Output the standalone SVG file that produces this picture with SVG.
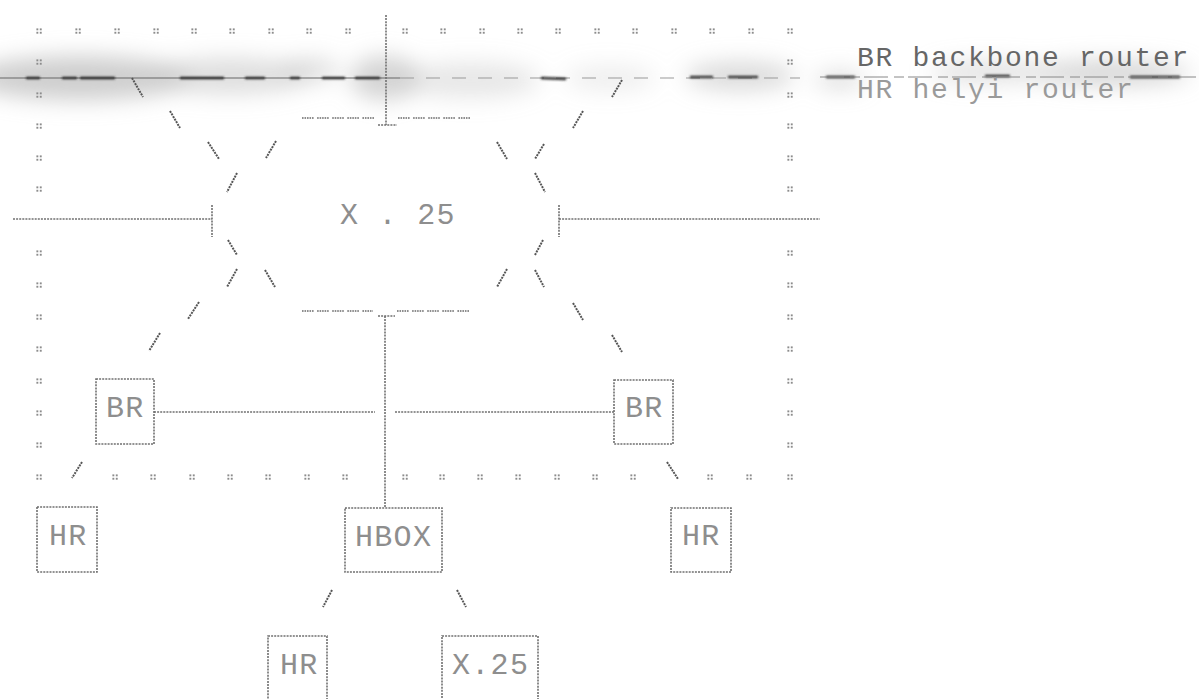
<svg xmlns="http://www.w3.org/2000/svg" xmlns:xlink="http://www.w3.org/1999/xlink" width="1199" height="699" viewBox="0 0 1199 699">
<style>
.ln{stroke:#707070;stroke-width:1.6;fill:none;stroke-dasharray:2 1.1}
.sl{stroke:#555;stroke-width:2;fill:none;stroke-dasharray:2 1}
.dash{stroke:#6a6a6a;stroke-width:1.5;fill:none;stroke-dasharray:1.6 0.9 1.6 0.9 1.6 0.9 1.6 0.9 1.6 3.5}
.box{stroke:#707070;stroke-width:1.6;fill:none;stroke-dasharray:2 1.1}
.lbl{font-family:"Liberation Mono","DejaVu Sans Mono",monospace;font-size:30px;fill:#8e8e8e;letter-spacing:1.3px}
.leg{font-family:"Liberation Mono","DejaVu Sans Mono",monospace;font-size:28px;letter-spacing:1.7px}
</style>
<defs>
<g id="t" fill="#8c8c8c"><rect x="-2.6" y="-2.6" width="1.9" height="1.9"/><rect x="0.8" y="-2.6" width="1.9" height="1.9"/><rect x="-2.6" y="0.8" width="1.9" height="1.9"/><rect x="0.8" y="0.8" width="1.9" height="1.9"/></g>
<filter id="blur" x="-20%" y="-300%" width="140%" height="700%"><feGaussianBlur stdDeviation="11"/></filter>
<filter id="blur2" x="-10%" y="-300%" width="120%" height="700%"><feGaussianBlur stdDeviation="1"/></filter>
</defs>
<rect width="1199" height="699" fill="#fff"/>
<g id="smudge">
<g filter="url(#blur)" fill="#c2c2c2">
<ellipse cx="80" cy="78" rx="110" ry="22" opacity="0.8"/>
<ellipse cx="230" cy="76" rx="80" ry="18" opacity="0.55"/>
<ellipse cx="310" cy="70" rx="30" ry="12" opacity="0.5"/>
<ellipse cx="385" cy="78" rx="35" ry="22" opacity="0.7"/>
<ellipse cx="470" cy="80" rx="70" ry="18" opacity="0.4"/>
<ellipse cx="610" cy="78" rx="45" ry="12" opacity="0.3"/>
<ellipse cx="740" cy="76" rx="55" ry="14" opacity="0.6"/>
<ellipse cx="840" cy="80" rx="25" ry="8" opacity="0.6"/>
<ellipse cx="990" cy="72" rx="60" ry="10" opacity="0.55"/>
<ellipse cx="1110" cy="73" rx="80" ry="12" opacity="0.7"/>
</g>
<line x1="0" y1="78" x2="400" y2="78" stroke="#666" stroke-width="1.2"/>
<line x1="400" y1="78" x2="800" y2="78" stroke="#999" stroke-width="1" stroke-dasharray="14 12"/>
<g stroke="#2a2a2a" stroke-width="2.4" filter="url(#blur2)">
<line x1="26" y1="78" x2="40" y2="78"/>
<line x1="62" y1="78" x2="77" y2="78"/>
<line x1="80" y1="78" x2="115" y2="78"/>
<line x1="180" y1="78" x2="224" y2="78"/>
<line x1="245" y1="78" x2="265" y2="78"/>
<line x1="290" y1="78" x2="300" y2="78"/>
<line x1="322" y1="78" x2="345" y2="78"/>
<line x1="355" y1="78" x2="380" y2="78"/>
<line x1="541" y1="78" x2="566" y2="79"/>
<line x1="690" y1="77" x2="713" y2="77"/>
<line x1="728" y1="77" x2="758" y2="77"/>
<line x1="826" y1="77" x2="855" y2="77"/>
<line x1="985" y1="76" x2="1010" y2="76"/>
<line x1="1130" y1="77" x2="1180" y2="77"/>
</g>
<line x1="820" y1="77" x2="1199" y2="77" stroke="#888" stroke-width="1" stroke-dasharray="24 6 10 4"/>
</g>
<g id="ticks">
<use xlink:href="#t" x="39" y="31"/><use xlink:href="#t" x="78" y="31"/><use xlink:href="#t" x="117" y="31"/><use xlink:href="#t" x="156" y="31"/><use xlink:href="#t" x="194" y="31"/><use xlink:href="#t" x="232" y="31"/><use xlink:href="#t" x="271" y="31"/><use xlink:href="#t" x="309" y="31"/><use xlink:href="#t" x="348" y="31"/>
<use xlink:href="#t" x="405" y="31"/><use xlink:href="#t" x="443" y="31"/><use xlink:href="#t" x="482" y="31"/><use xlink:href="#t" x="520" y="31"/><use xlink:href="#t" x="558" y="31"/><use xlink:href="#t" x="597" y="31"/><use xlink:href="#t" x="635" y="31"/><use xlink:href="#t" x="674" y="31"/><use xlink:href="#t" x="712" y="31"/><use xlink:href="#t" x="751" y="31"/><use xlink:href="#t" x="790" y="31"/>
<use xlink:href="#t" x="39" y="62"/><use xlink:href="#t" x="39" y="95"/><use xlink:href="#t" x="39" y="126"/><use xlink:href="#t" x="39" y="158"/><use xlink:href="#t" x="39" y="189"/><use xlink:href="#t" x="39" y="253"/><use xlink:href="#t" x="39" y="285"/><use xlink:href="#t" x="39" y="317"/><use xlink:href="#t" x="39" y="349"/><use xlink:href="#t" x="39" y="381"/><use xlink:href="#t" x="39" y="413"/><use xlink:href="#t" x="39" y="445"/><use xlink:href="#t" x="39" y="477"/>
<use xlink:href="#t" x="790" y="62"/><use xlink:href="#t" x="790" y="95"/><use xlink:href="#t" x="790" y="126"/><use xlink:href="#t" x="790" y="158"/><use xlink:href="#t" x="790" y="189"/><use xlink:href="#t" x="790" y="253"/><use xlink:href="#t" x="790" y="285"/><use xlink:href="#t" x="790" y="317"/><use xlink:href="#t" x="790" y="349"/><use xlink:href="#t" x="790" y="381"/><use xlink:href="#t" x="790" y="413"/><use xlink:href="#t" x="790" y="445"/><use xlink:href="#t" x="790" y="477"/>
<use xlink:href="#t" x="115" y="477"/><use xlink:href="#t" x="153" y="477"/><use xlink:href="#t" x="192" y="477"/><use xlink:href="#t" x="230" y="477"/><use xlink:href="#t" x="268" y="477"/><use xlink:href="#t" x="307" y="477"/><use xlink:href="#t" x="345" y="477"/>
<use xlink:href="#t" x="405" y="477"/><use xlink:href="#t" x="442" y="477"/><use xlink:href="#t" x="480" y="477"/><use xlink:href="#t" x="518" y="477"/><use xlink:href="#t" x="557" y="477"/><use xlink:href="#t" x="595" y="477"/><use xlink:href="#t" x="633" y="477"/><use xlink:href="#t" x="710" y="477"/><use xlink:href="#t" x="749" y="477"/>
</g>
<g id="connectors">
<line class="ln" x1="386" y1="15" x2="386" y2="125"/>
<line class="ln" x1="378" y1="125" x2="397" y2="125"/>
<line class="dash" x1="302" y1="118" x2="375" y2="118"/>
<line class="dash" x1="398" y1="118" x2="470" y2="118"/>
<line class="ln" x1="13" y1="219" x2="212" y2="219"/>
<line class="ln" x1="212" y1="205" x2="212" y2="237"/>
<line class="ln" x1="559" y1="219" x2="820" y2="219"/>
<line class="ln" x1="559" y1="205" x2="559" y2="237"/>
<line class="dash" x1="302" y1="311" x2="373" y2="311"/>
<line class="dash" x1="397" y1="311" x2="470" y2="311"/>
<line class="ln" x1="378" y1="316" x2="395" y2="316"/>
<line class="ln" x1="385" y1="316" x2="385" y2="508"/>
<line class="ln" x1="154" y1="412" x2="375" y2="412"/>
<line class="ln" x1="395" y1="412" x2="614" y2="412"/>
<line class="sl" x1="132" y1="78" x2="143" y2="97"/>
<line class="sl" x1="170" y1="111" x2="180" y2="128"/>
<line class="sl" x1="208" y1="142" x2="219" y2="159"/>
<line class="sl" x1="276" y1="141" x2="266" y2="158"/>
<line class="sl" x1="237" y1="173" x2="227" y2="192"/>
<line class="sl" x1="622" y1="80" x2="612" y2="97"/>
<line class="sl" x1="583" y1="111" x2="573" y2="128"/>
<line class="sl" x1="497" y1="142" x2="507" y2="159"/>
<line class="sl" x1="544" y1="144" x2="535" y2="159"/>
<line class="sl" x1="535" y1="173" x2="545" y2="192"/>
<line class="sl" x1="228" y1="240" x2="237" y2="255"/>
<line class="sl" x1="237" y1="269" x2="227" y2="287"/>
<line class="sl" x1="265" y1="270" x2="275" y2="287"/>
<line class="sl" x1="199" y1="302" x2="188" y2="319"/>
<line class="sl" x1="160" y1="333" x2="149" y2="351"/>
<line class="sl" x1="82" y1="462" x2="72" y2="478"/>
<line class="sl" x1="543" y1="240" x2="535" y2="255"/>
<line class="sl" x1="507" y1="269" x2="497" y2="287"/>
<line class="sl" x1="535" y1="270" x2="544" y2="287"/>
<line class="sl" x1="573" y1="303" x2="583" y2="320"/>
<line class="sl" x1="612" y1="335" x2="622" y2="352"/>
<line class="sl" x1="667" y1="462" x2="678" y2="479"/>
<line class="sl" x1="332" y1="590" x2="323" y2="607"/>
<line class="sl" x1="457" y1="590" x2="466" y2="607"/>
</g>
<g id="x25net"><text class="lbl" x="340" y="224">X . 25</text></g>
<g id="br-left"><rect class="box" x="96" y="379" width="58" height="65"/><text class="lbl" x="106" y="417">BR</text></g>
<g id="br-right"><rect class="box" x="614" y="380" width="59" height="64"/><text class="lbl" x="625" y="417">BR</text></g>
<g id="hr-left"><rect class="box" x="37" y="507" width="60" height="65"/><text class="lbl" x="49" y="545">HR</text></g>
<g id="hr-right"><rect class="box" x="671" y="508" width="60" height="64"/><text class="lbl" x="682" y="545">HR</text></g>
<g id="hbox"><rect class="box" x="345" y="508" width="97" height="64"/><text class="lbl" x="355" y="546">HBOX</text></g>
<g id="hr-bottom"><rect class="box" x="268" y="636" width="59" height="90"/><text class="lbl" x="280" y="674">HR</text></g>
<g id="x25-bottom"><rect class="box" x="442" y="636" width="96" height="90"/><text class="lbl" x="452" y="674">X.25</text></g>
<g id="legend">
<text class="leg" x="857" y="66" fill="#666">BR backbone router</text>
<text class="leg" x="857" y="98" fill="#9a9a9a">HR helyi router</text>
</g>
</svg>
